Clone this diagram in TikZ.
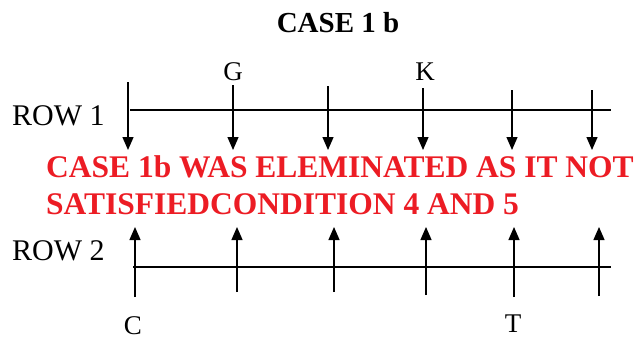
\documentclass[tikz,border=0pt]{standalone}
\usepackage{fontspec}
\setmainfont{Liberation Serif}
\usetikzlibrary{arrows.meta}
\definecolor{warnred}{RGB}{236,28,36}
\tikzset{
  rowline/.style={line width=2.6pt},
  tickarrow/.style={line width=1.3pt,-{Triangle[width=11pt,length=13pt]}},
  lbl/.style={inner sep=0pt,anchor=base,font=\fontsize{27}{30}\selectfont},
  rowlbl/.style={inner sep=0pt,anchor=base west,font=\fontsize{30}{34}\selectfont},
  warn/.style={inner sep=0pt,anchor=base west,text=warnred,font=\bfseries\fontsize{31.5}{37}\selectfont},
}
\begin{document}
\begin{tikzpicture}[x=1pt,y=-1pt]
\useasboundingbox (0,0) rectangle (644,340);
% title
\node[inner sep=0pt,anchor=base,font=\bfseries\fontsize{29}{32}\selectfont] (title) at (338,32) {CASE 1 b};
% row labels
\node[rowlbl] (row1) at (12,125) {ROW 1};
\node[rowlbl] (row2) at (12,260) {ROW 2};
% row lines
\coordinate (r1a) at (130,110); \coordinate (r1b) at (611,110);
\coordinate (r2a) at (133,267); \coordinate (r2b) at (611,267);
\draw[rowline] (r1a) -- (r1b);
\draw[rowline] (r2a) -- (r2b);
% row 1 arrows (down)
\foreach \i/\x/\t in {1/128/82,2/233/85,3/328/86,4/423/88,5/512/90,6/592/90}{
  \coordinate (d\i t) at (\x,\t);
  \coordinate (d\i b) at (\x,150);
  \draw[tickarrow] (d\i t) -- (d\i b);
}
% row 2 arrows (up)
\foreach \i/\x/\b in {1/135/297,2/237/292,3/334/292,4/426/295,5/514/297,6/599/296}{
  \coordinate (u\i b) at (\x,\b);
  \coordinate (u\i t) at (\x,227);
  \draw[tickarrow] (u\i b) -- (u\i t);
}
% letters
\node[lbl] (G) at (233,80) {G};
\node[lbl] (K) at (425,80) {K};
\node[lbl] (C) at (133,334) {C};
\node[lbl] (T) at (513,332) {T};
% warning text
\node[warn] (msg1) at (46,177) {CASE 1b WAS ELEMINATED AS IT NOT};
\node[warn] (msg2) at (46,214) {SATISFIEDCONDITION 4 AND 5};
\end{tikzpicture}
\end{document}
